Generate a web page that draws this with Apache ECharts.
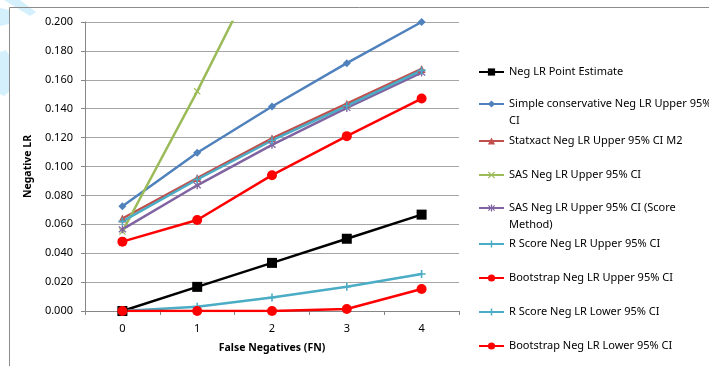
<!DOCTYPE html>
<html><head><meta charset="utf-8">
<script src="https://cdn.jsdelivr.net/npm/echarts@6/dist/echarts.min.js"></script>
<style>html,body{margin:0;padding:0;background:#fff}#c{width:709px;height:366px}</style>
</head><body><div id="c"></div>
<script>
const categories = ['0', '1', '2', '3', '4'];
const yTicks = [0, 0.02, 0.04, 0.06, 0.08, 0.10, 0.12, 0.14, 0.16, 0.18, 0.20];

const pointEstimate   = [0.000, 0.0167, 0.0333, 0.0500, 0.0667];
const simpleUpper     = [0.0725, 0.1095, 0.1415, 0.1715, 0.2000];
const statxactUpper   = [0.0640, 0.0920, 0.1195, 0.1435, 0.1675];
const sasUpper        = [0.0550, 0.1520, 0.2550, 0.3600, 0.4650];
const sasScoreUpper   = [0.0565, 0.0870, 0.1150, 0.1405, 0.1650];
const rScoreUpper     = [0.0620, 0.0910, 0.1180, 0.1420, 0.1665];
const bootUpper       = [0.0480, 0.0630, 0.0940, 0.1210, 0.1470];
const rScoreLower     = [0.0000, 0.0030, 0.0093, 0.0168, 0.0256];
const bootLower       = [0.0000, 0.0000, 0.0000, 0.0014, 0.0152];

const names = [
  'Neg LR Point Estimate',
  'Simple conservative Neg LR Upper 95% CI',
  'Statxact Neg LR Upper 95% CI M2',
  'SAS Neg LR Upper 95% CI',
  'SAS Neg LR Upper 95% CI (Score Method)',
  'R Score Neg LR Upper 95% CI',
  'Bootstrap Neg LR Upper 95% CI',
  'R Score Neg LR Lower 95% CI',
  'Bootstrap Neg LR Lower 95% CI'
];
const legendLabels = [
  'Neg LR Point Estimate',
  'Simple conservative Neg LR Upper 95%\nCI',
  'Statxact Neg LR Upper 95% CI M2',
  'SAS Neg LR Upper 95% CI',
  'SAS Neg LR Upper 95% CI (Score\nMethod)',
  'R Score Neg LR Upper 95% CI',
  'Bootstrap Neg LR Upper 95% CI',
  'R Score Neg LR Lower 95% CI',
  'Bootstrap Neg LR Lower 95% CI'
];
const legendCenters = [72, 104, 141, 175, 208, 244, 278, 312, 346];

const FONT = 'Noto Sans';
const PLUS = 'path://M4,0H6V4H10V6H6V10H4V6H0V4H4Z';
const ASTER = 'path://M4.2,0H5.8V3.6L8.6,0.8L9.7,1.9L6.4,5L9.7,8.1L8.6,9.2L5.8,6.4V10H4.2V6.4L1.4,9.2L0.3,8.1L3.6,5L0.3,1.9L1.4,0.8L4.2,3.6Z';
const XMARK = 'path://M1.2,0L5,3.8L8.8,0L10,1.2L6.2,5L10,8.8L8.8,10L5,6.2L1.2,10L0,8.8L3.8,5L0,1.2Z';

const specs = [
  {data: pointEstimate, color: '#000000', symbol: 'rect', size: 10},
  {data: simpleUpper, color: '#4F81BD', symbol: 'diamond', size: 8},
  {data: statxactUpper, color: '#C0504D', symbol: 'triangle', size: 8},
  {data: sasUpper, color: '#9BBB59', symbol: XMARK, size: 7},
  {data: sasScoreUpper, color: '#8064A2', symbol: ASTER, size: 8},
  {data: rScoreUpper, color: '#4BACC6', symbol: PLUS, size: 8},
  {data: bootUpper, color: '#FF0000', symbol: 'circle', size: 10},
  {data: rScoreLower, color: '#4BACC6', symbol: PLUS, size: 8},
  {data: bootLower, color: '#FF0000', symbol: 'circle', size: 10}
];

const series = specs.map((s, i) => ({
  name: names[i], type: 'line', data: s.data, symbol: s.symbol, symbolSize: s.size,
  showAllSymbol: true, clip: true, animation: false,
  lineStyle: {color: s.color, width: 2.5},
  itemStyle: {color: s.color, borderWidth: 0}
}));

const legends = names.map((n, i) => {
  const two = legendLabels[i].indexOf('\n') >= 0;
  const L = 17;
  return {
    data: [n], orient: 'vertical', left: 478, padding: 0,
    top: two ? legendCenters[i] - 25.5 : legendCenters[i] - 8.5,
    itemWidth: 25, itemHeight: 9, itemGap: 0,
    formatter: () => two ? '\u00a0\n' + legendLabels[i] : legendLabels[i],
    selectedMode: false,
    textStyle: {fontFamily: FONT, fontSize: 11, color: '#000', lineHeight: L}
  };
});

const chart = echarts.init(document.getElementById('c'), null, {renderer: 'canvas'});
chart.setOption({
  animation: false,
  backgroundColor: '#fff',
  graphic: [
    {type: 'polygon', shape: {points: [[4,0],[20,0],[36,12],[30,16]]}, style: {fill: '#d3f0fc'}, z: -1},
    {type: 'polygon', shape: {points: [[0,8],[9,10],[9,24],[0,26]]}, style: {fill: '#d3f0fc'}, z: -1},
    {type: 'polygon', shape: {points: [[0,52],[6,50],[9,55],[9,92],[4,96],[0,94]]}, style: {fill: '#d3f0fc'}, z: -1},
    {type: 'rect', shape: {x: 9.5, y: 7.5, width: 720, height: 400}, style: {fill: 'none', stroke: '#8c8c8c', lineWidth: 1}, z: 0}
  ],
  grid: {left: 85, right: 250, top: 22, bottom: 55, containLabel: false},
  legend: legends,
  xAxis: {
    type: 'category', data: categories, boundaryGap: true,
    name: 'False Negatives (FN)', nameLocation: 'middle', nameGap: 32,
    nameTextStyle: {fontFamily: FONT, fontSize: 10.5, fontWeight: 'bold', color: '#000'},
    axisLine: {lineStyle: {color: '#868686', width: 1}},
    axisTick: {show: true, length: 4, alignWithLabel: false, lineStyle: {color: '#868686'}},
    axisLabel: {fontFamily: FONT, fontSize: 11, color: '#000', margin: 12},
    splitLine: {show: false}
  },
  yAxis: {
    type: 'value', min: 0, max: 0.2, interval: 0.02,
    name: 'Negative LR', nameLocation: 'middle', nameGap: 46, nameRotate: 90,
    nameTextStyle: {fontFamily: FONT, fontSize: 10.5, fontWeight: 'bold', color: '#000'},
    axisLine: {show: true, lineStyle: {color: '#868686', width: 1}},
    axisTick: {show: true, length: 4, lineStyle: {color: '#868686'}},
    axisLabel: {fontFamily: FONT, fontSize: 11, color: '#000', margin: 12,
      formatter: v => yTicks.some(t => Math.abs(t - v) < 1e-9) ? v.toFixed(3) : ''},
    splitLine: {show: true, lineStyle: {color: '#a6a6a6', width: 1}}
  },
  series: series
});
</script></body></html>
